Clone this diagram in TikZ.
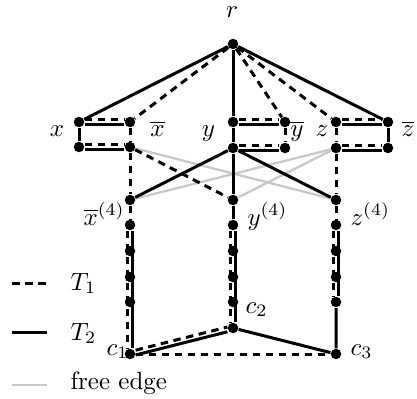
\documentclass[tikz,border=0pt]{standalone}
\usepackage{amsmath}
\usetikzlibrary{backgrounds}
\definecolor{freegray}{RGB}{200,200,200}
\tikzset{
  dot/.style={circle, fill=black, inner sep=0pt, minimum size=4.2pt},
  tone/.style={line width=1.2pt, dash pattern=on 3pt off 2.2pt},
  ttwo/.style={line width=1.2pt},
  freeedge/.style={line width=0.9pt, freegray},
  lbl/.style={inner sep=0pt, anchor=base},
  hi/.style={transform canvas={yshift=0.95pt}},
  lo/.style={transform canvas={yshift=-0.95pt}},
  lft/.style={transform canvas={xshift=-0.95pt}},
  rgt/.style={transform canvas={xshift=0.95pt}},
}

\begin{document}
\begin{tikzpicture}[x=0.4pt, y=-0.4pt]
    \useasboundingbox (0,0) rectangle (417,398);
    % vertices
    \node[dot] (r)   at (233,44)  {};
    \node[dot] (x1)  at (79,122)  {};
    \node[dot] (x2)  at (79,147)  {};
    \node[dot] (xb1) at (130,122) {};
    \node[dot] (xb2) at (130,147) {};
    \node[dot] (y1)  at (233,122) {};
    \node[dot] (y2)  at (233,148) {};
    \node[dot] (yb1) at (285,122) {};
    \node[dot] (yb2) at (285,148) {};
    \node[dot] (z1)  at (336,122) {};
    \node[dot] (z2)  at (336,148) {};
    \node[dot] (zb1) at (388,122) {};
    \node[dot] (zb2) at (388,148) {};
    \node[dot] (xb4) at (130,200) {};
    \node[dot] (xb5) at (130,225) {};
    \node[dot] (xb6) at (130,251) {};
    \node[dot] (xb7) at (130,277) {};
    \node[dot] (xb8) at (130,302) {};
    \node[dot] (y4)  at (233,200) {};
    \node[dot] (y5)  at (233,225) {};
    \node[dot] (y6)  at (233,251) {};
    \node[dot] (y7)  at (233,277) {};
    \node[dot] (y8)  at (233,302) {};
    \node[dot] (z4)  at (336,200) {};
    \node[dot] (z5)  at (336,225) {};
    \node[dot] (z6)  at (336,251) {};
    \node[dot] (z7)  at (336,277) {};
    \node[dot] (z8)  at (336,302) {};
    \node[dot] (c1)  at (130,354) {};
    \node[dot] (c2)  at (233,328) {};
    \node[dot] (c3)  at (336,354) {};
    % labels
    \node[lbl] (lr)  at (232,18)  {$r$};
    \node[lbl] (lx)  at (57,137)  {$x$};
    \node[lbl] (lxb) at (157.5,137) {$\overline{x}$};
    \node[lbl] (ly)  at (208.5,137) {$y$};
    \node[lbl] (lyb) at (297,137) {$\overline{y}$};
    \node[lbl] (lz)  at (322,137) {$z$};
    \node[lbl] (lzb) at (408,137) {$\overline{z}$};
    \node[lbl, anchor=base west] (lxb4) at (83,225)  {$\overline{x}^{(4)}$};
    \node[lbl, anchor=base west] (ly4)  at (247,225) {$y^{(4)}$};
    \node[lbl, anchor=base west] (lz4)  at (350,225) {$z^{(4)}$};
    \node[lbl, anchor=base west] (lc1)  at (106,355) {$c_1$};
    \node[lbl, anchor=base west] (lc2)  at (245,313) {$c_2$};
    \node[lbl, anchor=base west] (lc3)  at (350,355) {$c_3$};
    \begin{scope}[on background layer]
    % free edges
    \draw[freeedge] (xb2) -- (z4);
    \draw[freeedge] (xb4) -- (z2);
    \draw[freeedge] (y4) -- (z2);
    % T_2
    \draw[ttwo] (r) -- (x1);
    \draw[ttwo] (r) -- (y1);
    \draw[ttwo] (r) -- (zb1);
    \draw[ttwo] (x1) -- (x2);
    \draw[ttwo] (y1) -- (y2) -- (y4) -- (y5);
    \draw[ttwo] (zb1) -- (zb2);
    \draw[ttwo] (y2) -- (xb4);
    \draw[ttwo] (y2) -- (z4);
    \draw[ttwo] (z8) -- (c3) -- (c2);
    \draw[ttwo,lo] (x1) -- (xb1);
    \draw[ttwo,lo] (x2) -- (xb2);
    \draw[ttwo,lo] (y1) -- (yb1);
    \draw[ttwo,lo] (y2) -- (yb2);
    \draw[ttwo,lo] (z1) -- (zb1);
    \draw[ttwo,lo] (z2) -- (zb2);
    \draw[ttwo,lo] (c1) -- (c2);
    \draw[ttwo,rgt] (xb5) -- (c1);
    \draw[ttwo,rgt] (y5) -- (c2);
    \draw[ttwo,rgt] (z5) -- (z8);
    % T_1
    \draw[tone] (r) -- (xb1);
    \draw[tone] (r) -- (yb1);
    \draw[tone] (r) -- (z1);
    \draw[tone] (xb1) -- (xb2) -- (xb4) -- (xb5);
    \draw[tone] (yb1) -- (yb2);
    \draw[tone] (z1) -- (z2) -- (z4) -- (z5);
    \draw[tone] (xb2) -- (y4);
    \draw[tone] (c1) -- (c3);
    \draw[tone,hi] (x1) -- (xb1);
    \draw[tone,hi] (x2) -- (xb2);
    \draw[tone,hi] (y1) -- (yb1);
    \draw[tone,hi] (y2) -- (yb2);
    \draw[tone,hi] (z1) -- (zb1);
    \draw[tone,hi] (z2) -- (zb2);
    \draw[tone,hi] (c1) -- (c2);
    \draw[tone,lft] (xb5) -- (c1);
    \draw[tone,lft] (y5) -- (c2);
    \draw[tone,lft] (z5) -- (z8);
    \end{scope}
    % legend
    \coordinate (ka) at (12,283);
    \coordinate (kb) at (47,283);
    \coordinate (kc) at (12,332);
    \coordinate (kd) at (47,332);
    \coordinate (ke) at (12,385);
    \coordinate (kf) at (47,385);
    \draw[tone] (ka) -- (kb);
    \draw[ttwo] (kc) -- (kd);
    \draw[freeedge] (ke) -- (kf);
    \node[lbl, anchor=base west] (kt1)   at (70,290) {$T_1$};
    \node[lbl, anchor=base west] (kt2)   at (70,340) {$T_2$};
    \node[lbl, anchor=base west] (kfree) at (70,389) {free edge};
\end{tikzpicture}
\end{document}
